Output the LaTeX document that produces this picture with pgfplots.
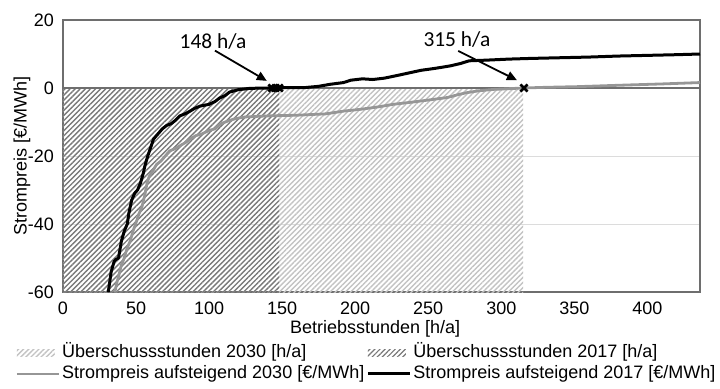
\documentclass[border=0pt]{standalone}
\usepackage{pgfplots}
\pgfplotsset{compat=1.18}
\usepackage{fontspec}
\setmainfont{Liberation Sans}
\newfontfamily\carlito{Carlito}
\usetikzlibrary{patterns.meta,arrows.meta}
\definecolor{hatchA}{RGB}{195,195,195}
\definecolor{hatchB}{RGB}{120,120,120}
\definecolor{line30}{RGB}{150,150,150}
\definecolor{framec}{RGB}{110,110,110}
\definecolor{gridc}{RGB}{220,220,220}
\begin{document}
\begin{tikzpicture}[font=\fontsize{9}{10.5}\selectfont]
\begin{axis}[name=ax, at={(0,0)}, anchor=south west,
 scale only axis, width=318.5pt, height=136pt,
 xmin=0, xmax=436, ymin=-60, ymax=20,
 xtick={0,50,100,150,200,250,300,350,400}, xticklabels={0,50,100,150,200,250,300,350,400},
 ytick={-60,-40,-20,0,20}, yticklabels={-60,-40,-20,0,20},
 major tick length=0pt,
 axis line style={draw=framec, line width=0.6pt},
 ymajorgrids, grid style={draw=gridc, line width=0.5pt},
 xticklabel style={yshift=-1.5pt},
 yticklabel style={xshift=-1pt},
 xlabel={Betriebsstunden [h/a]}, ylabel={Strompreis [€/MWh]},
 every axis x label/.style={at={(axis description cs:0.49,-0.136)}, anchor=center},
 every axis y label/.style={at={(axis description cs:-0.0644,0.5)}, rotate=90, anchor=center},
 legend columns=2,
 legend cell align=left,
 legend style={at={(axis description cs:-0.0754,-0.184)}, anchor=north west, draw=none, fill=none, inner sep=0pt, column sep=0pt, row sep=0pt, nodes={inner xsep=1pt, inner ysep=1pt, text height=6.5pt, text depth=2pt}},
 clip=false,
]
\addplot[draw=none, pattern={Lines[angle=45,distance=1.8pt,line width=0.7pt]}, pattern color=hatchA,
  legend image code/.code={\fill[pattern={Lines[angle=45,distance=1.8pt,line width=0.7pt]}, pattern color=hatchA] (0pt,-1.75pt) rectangle (19pt,1.75pt);}]
  coordinates {(0,-60) (0,0) (315,0) (315,-60)} -- cycle;
\addlegendentry{Überschussstunden 2030 [h/a]}
\addplot[draw=none, pattern={Lines[angle=45,distance=1.8pt,line width=0.6pt]}, pattern color=hatchB,
  legend image code/.code={\fill[pattern={Lines[angle=45,distance=1.8pt,line width=0.6pt]}, pattern color=hatchB] (0pt,-1.75pt) rectangle (19pt,1.75pt);}]
  coordinates {(0,-60) (0,0) (148,0) (148,-60)} -- cycle;
\addlegendentry{Überschussstunden 2017 [h/a]}
\draw[framec, line width=0.6pt] (axis cs:0,0) -- (axis cs:436,0);
\pgfplotsinvokeforeach{50,100,150,200,250,300,350,400}{\draw[framec, line width=0.6pt] (axis cs:#1,0) ++(0,-0.5pt) -- ++(0,3.5pt);}
\addplot[line30, line width=1.4pt, line join=round,
  legend image code/.code={\draw[line30, line width=1.4pt] (0pt,0pt) -- (21pt,0pt);}]
  coordinates {(35.5,-60) (37,-57) (38,-55.5) (40,-52) (41.5,-50.5) (44,-47) (46,-45) (48,-42) (50.5,-39) (52,-37) (54,-35) (56,-31.5) (57.5,-28) (59,-26) (62,-24) (64,-22.5) (67,-21.5) (70,-20) (73,-18.5) (77,-17.8) (80,-17) (84,-16) (87,-15) (91,-14) (95,-13.5) (100,-12.5) (104,-12) (108,-10.5) (113,-9.7) (118,-9) (125,-8.5) (140,-8.2) (160,-8) (180,-7.6) (192,-6.8) (203,-6.3) (215,-5.6) (226,-4.8) (238,-4.2) (249,-3.6) (263,-2.8) (270,-2) (276,-1.4) (285,-0.8) (295,-0.4) (305,-0.2) (315,0) (330,0.2) (352,0.4) (380,0.8) (410,1.2) (436,1.6)};
\addlegendentry{Strompreis aufsteigend 2030 [€/MWh]}
\addplot[black, line width=1.5pt, line join=round,
  legend image code/.code={\draw[black, line width=1.5pt] (0pt,0pt) -- (21pt,0pt);}]
  coordinates {(31,-60) (32,-57) (33,-54) (35,-51) (36,-50.5) (38,-50) (40,-45) (42,-42) (44,-40) (45,-37) (47,-33) (49,-31) (51,-30) (53,-28) (55,-25) (56,-23) (58,-20) (60,-17.5) (62,-15) (65,-13.5) (68,-12) (71,-11) (74,-10.5) (77,-9.5) (80,-8.2) (84,-7.5) (87,-6.8) (90,-6) (94,-5.3) (100,-4.8) (104,-4) (107,-3) (111,-2.2) (114,-1.2) (120,-0.5) (128,-0.1) (140,0) (150,0.1) (165,0.1) (175,0.5) (183,1.1) (192,1.6) (197,2.3) (205,2.7) (212,2.5) (220,2.9) (230,3.8) (245,5.2) (255,5.8) (265,6.5) (272,7.2) (278,8) (290,8.2) (305,8.5) (320,8.7) (340,8.9) (360,9.1) (380,9.4) (400,9.6) (420,9.8) (436,10)};
\addlegendentry{Strompreis aufsteigend 2017 [€/MWh]}
\addplot[only marks, mark=x, mark size=2.5pt, line width=1.3pt, black, forget plot]
  coordinates {(143,0) (145.5,0) (148,0) (315.5,0)};
\draw[-{Triangle[length=5pt,width=4.5pt]}, line width=0.9pt] (axis cs:104,11) -- (axis cs:139.5,2.1);
\node[font=\carlito\fontsize{10.7}{12}\selectfont] at (axis cs:102.7,13.8) {148 h/a};
\draw[-{Triangle[length=5pt,width=4.5pt]}, line width=0.9pt] (axis cs:270.5,10.9) -- (axis cs:310.7,2.3);
\node[font=\carlito\fontsize{10.7}{12}\selectfont] at (axis cs:269.6,14.3) {315 h/a};
\end{axis}
\pgfresetboundingbox
\path ([shift={(-31.5pt,-48pt)}]ax.south west) rectangle ([shift={(328.5pt,146pt)}]ax.south west);
\end{tikzpicture}
\end{document}
